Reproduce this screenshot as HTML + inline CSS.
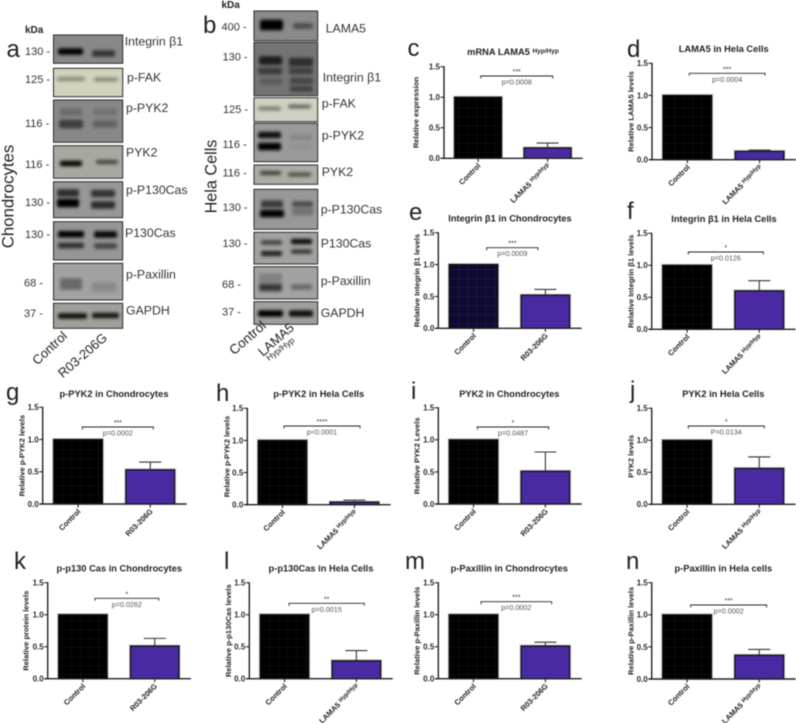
<!DOCTYPE html>
<html lang="en">
<head>
<meta charset="utf-8">
<title>LAMA5 western blots and quantification</title>
<style>
html,body{margin:0;padding:0;background:#fff;width:796px;height:723px;overflow:hidden}
svg{display:block;font-family:"Liberation Sans",Arial,sans-serif;filter:blur(0.4px)}
</style>
</head>
<body>
<svg id="fig" xmlns="http://www.w3.org/2000/svg" width="796" height="723" viewBox="0 0 796 723">
<defs>
<filter id="bandBlur" x="-30%" y="-200%" width="160%" height="500%"><feGaussianBlur stdDeviation="1.5"/></filter>
<pattern id="gridBlack" width="9" height="9" patternUnits="userSpaceOnUse"><rect width="9" height="9" fill="#000"/><path d="M9 0V9M0 9H9" stroke="#161616" stroke-width="1"/></pattern>
<pattern id="gridNavy" width="9" height="9" patternUnits="userSpaceOnUse"><rect width="9" height="9" fill="#0c0a30"/><path d="M9 0V9M0 9H9" stroke="#26244e" stroke-width="1"/></pattern>
</defs>
</svg>
<script>
/* ---------- chart data ---------- */
var panelIds = ['c','d','e','f','g','h','i','j','k','l','m','n'];
var panelTitles = ['mRNA LAMA5 |Hyp/Hyp','LAMA5 in Hela Cells','Integrin β1 in Chondrocytes','Integrin β1 in Hela Cells','p-PYK2 in Chondrocytes','p-PYK2 in Hela Cells','PYK2 in Chondrocytes','PYK2 in Hela Cells','p-p130 Cas in Chondrocytes','p-p130Cas in Hela Cells','p-Paxillin in Chondrocytes','p-Paxillin in Hela cells'];
var yTitles = ['Relative expression','Relative LAMA5 levels','Relative Integrin β1 levels','Relative Integrin β1 levels','Relative p-PYK2 levels','Relative p-PYK2 levels','Relative PYK2 Levels','PYK2 levels','Relative protein levels','Relative p-p130Cas levels','Relative p-Paxillin levels','Relative p-Paxillin levels'];
var controlLabel = 'Control';
var treatedLabels = ['LAMA5 |Hyp/Hyp','LAMA5 |Hyp/Hyp','R03-206G','LAMA5 |Hyp/Hyp','R03-206G','LAMA5 |Hyp/Hyp','R03-206G','LAMA5 |Hyp/Hyp','R03-206G','LAMA5 |Hyp/Hyp','R03-206G','LAMA5 |Hyp/Hyp'];
var controlValues = [1,1,1,1,1,1,1,1,1,1,1,1];
var treatedValues = [0.17,0.13,0.52,0.60,0.53,0.04,0.51,0.56,0.51,0.28,0.51,0.37];
var treatedErrorTops = [0.25,0.15,0.61,0.76,0.65,0.07,0.81,0.74,0.63,0.44,0.57,0.46];
var significance = ['***','***','***','*','***','****','*','*','*','**','***','***'];
var pLabels = ['p=0.0008','p=0.0004','p=0.0009','p=0.0126','p=0.0002','p<0.0001','p=0.0487','P=0.0134','p=0.0262','p=0.0015','p=0.0002','p=0.0002'];
var tickValues = [0,0.5,1,1.5];
var tickLabels = ['0.0','0.5','1.0','1.5'];

/* ---------- panel frames (axis origin, top, width; bracket; title) ---------- */
var frames = [
 {ax:444,  top:66.7, y0:158.3,w:138.7,bx1:480.7,bx2:552.7,by:76,   tx:513,  ty:52,   lx:407.5,ly:56, yo:28},
 {ax:652,  top:63.3, y0:159.7,w:144,  bx1:689.3,bx2:765,  by:73.3, tx:723.7,ty:49,   lx:627, ly:57, yo:21},
 {ax:438.3,top:232.7,y0:328.3,w:143.4,bx1:486.7,bx2:538,  by:247.7,tx:510,  ty:218.5,lx:409, ly:220,yo:21.6},
 {ax:651.7,top:233.3,y0:329.3,w:144,  bx1:688.3,bx2:763.3,by:252,  tx:724,  ty:219, lx:627, ly:219,yo:21},
 {ax:42.7, top:407.3,y0:504,  w:144,  bx1:82.3, bx2:153.3,by:427,  tx:114,  ty:394, lx:6,   ly:400,yo:21},
 {ax:247.3,top:408.3,y0:504.7,w:143.4,bx1:284,  bx2:360,  by:426,  tx:318.7,ty:394, lx:216, ly:401,yo:20.6},
 {ax:438.3,top:407.7,y0:504,  w:143.4,bx1:477.3,bx2:548.7,by:427,  tx:509.3,ty:394, lx:411, ly:399,yo:21.6},
 {ax:651.7,top:408.3,y0:504.3,w:144,  bx1:688.3,bx2:764.3,by:426,  tx:723.3,ty:394, lx:630, ly:398,yo:21},
 {ax:47.7, top:582.7,y0:678.7,w:143.3,bx1:95,   bx2:158.7,by:598.3,tx:119.3,ty:568.5,lx:14,  ly:569,yo:21.7},
 {ax:249.3,top:582.7,y0:678.7,w:143.4,bx1:289,  bx2:364.3,by:603.3,tx:321,  ty:568.5,lx:224, ly:569,yo:21},
 {ax:438.3,top:582.7,y0:678.7,w:143.4,bx1:481,  bx2:551.7,by:601.7,tx:509.3,ty:568.5,lx:405, ly:569,yo:21.6},
 {ax:651.7,top:582.7,y0:679,  w:144,  bx1:690.7,bx2:766.7,by:605,  tx:723.3,ty:568.5,lx:626, ly:569,yo:21}
];

/* ---------- western blot images: frame and smeared bands ---------- */
var blots = [
 {name:'chondrocytes-integrin',x:53.5,y:35,h:28.3,bg:'#888888',bands:[[58,83,51.5,5,1],[92,115,53.5,5,.6]]},
 {name:'chondrocytes-p-fak',x:53.5,y:68.3,h:28.4,bg:'#d2d2bd',bands:[[57,85,79,2.5,.35],[94,118,79.5,2.5,.35]]},
 {name:'chondrocytes-p-pyk2',x:53.5,y:100,h:42.3,bg:'#888888',bands:[[60,82,112,6,.2],[93,117,112,6,.15],[59,83,124,7,.55],[93,117,124,6,.28]]},
 {name:'chondrocytes-pyk2',x:53.5,y:145.7,h:32.6,bg:'#a8a8a0',bands:[[60,82,163.5,4,.95],[96,118,162,2.5,.6]]},
 {name:'chondrocytes-p-p130cas',x:53.5,y:181.7,h:36,bg:'#979797',bands:[[57,79,193,6,.7],[91,115,193.5,6,.65],[57,79,203,7,1],[91,115,205,6,.7]]},
 {name:'chondrocytes-p130cas',x:53.5,y:221.7,h:38.3,bg:'#969696',bands:[[58,84,234.3,5,1],[94,117,234.5,5,.95],[58,84,245.5,4,.7],[94,117,246,4,.55]]},
 {name:'chondrocytes-p-paxillin',x:53.5,y:263.3,h:36.7,bg:'#a2a2a2',bands:[[60,82,284,10,.35],[92,116,287,8,.15]]},
 {name:'chondrocytes-gapdh',x:53.5,y:303.3,h:25,bg:'#a0a09a',bands:[[58,87,316,4,.9],[92,119,315.5,4,.85]]},
 {name:'hela-lama5',x:254,y:11,h:29.7,bg:'#8a8a8a',bands:[[260,283,25,9,1],[293,313,26,4,.45]]},
 {name:'hela-integrin',x:254,y:42.3,h:53.4,bg:'#747474',bands:[[259,282,60.5,7,.75],[289,313,62,7,.6],[258,282,71,5,.5],[289,313,71,5,.45],[260,282,81.5,5,.2],[290,313,81,5,.4],[290,313,89,4,.45]]},
 {name:'hela-p-fak',x:254,y:97.7,h:24,bg:'#d0d0c2',bands:[[258,281,108.5,2.5,.4],[288,311,106.5,2.5,.5]]},
 {name:'hela-p-pyk2',x:254,y:123.3,h:38.4,bg:'#9a9a9a',bands:[[258,281,135,5,.9],[258,281,146.5,6,1],[290,312,137.5,4,.12],[290,312,147,4,.05]]},
 {name:'hela-pyk2',x:254,y:165,h:19.3,bg:'#acaca6',bands:[[260,281,173,2.5,.65],[288,311,174.5,2.5,.55]]},
 {name:'hela-p-p130cas',x:254,y:189.3,h:40,bg:'#989898',bands:[[261,283,204,6,.6],[292,313,204,4,.5],[260,284,213.5,6,1],[292,313,211.5,6,.25]]},
 {name:'hela-p130cas',x:254,y:232.3,h:31.7,bg:'#a2a29e',bands:[[261,282,242.5,3,.6],[291,312,241.5,4,.9],[261,282,253.5,3.5,.8],[291,312,251.5,3,.65]]},
 {name:'hela-p-paxillin',x:254,y:266.7,h:32.3,bg:'#a2a2a2',bands:[[259,282,278,8,.2],[259,282,287.5,6,.65],[291,312,287,4,.35]]},
 {name:'hela-gapdh',x:254,y:301.7,h:22.6,bg:'#a0a09c',bands:[[258,283,313.5,5,1],[289,313,313.5,5,.9]]}
];
var blotWidths = {a:69.2,b:63.7};
var blotLabels = [
 ['Integrin β1',124.7,41],['p-FAK',127,77],['p-PYK2',126,107.7],['PYK2',126,152.3],['p-P130Cas',126,189.7],['P130Cas',125,232.7],['p-Paxillin',126,274],['GAPDH',126,310.3],
 ['LAMA5',325.7,28.3],['Integrin β1',322.7,77.3],['p-FAK',321.7,103.3],['p-PYK2',321.7,135],['PYK2',321.7,171.7],['p-P130Cas',320.7,209],['P130Cas',320.7,243.3],['p-Paxillin',320.7,280.7],['GAPDH',320.7,312.7]
];
var markerLabels = [
 ['130 -',25,51],['125 -',25,79],['116 -',25,123.3],['116 -',25,164],['130 -',25,202.3],['130 -',25,234],['68 -',24,282.7],['37 -',24,313.3],
 ['400 -',221.5,26.7],['130 -',222.5,56.7],['125 -',223,109.3],['116 -',222.5,144],['116 -',222.5,172.7],['130 -',222.5,207.3],['130 -',222.5,243.3],['68 -',222,284.3],['37 -',222,311.7]
];
var lanes = [
 ['Control',68,337,13,-43],['R03-206G',108,339,13,-41],
 ['Control',267,327,13.5,-41],['LAMA5',295,329,13,-41],['Hyp/Hyp',295,341.5,8.5,-37]
];

/* ---------- drawing ---------- */
var svg = document.getElementById('fig');
var NS = 'http://www.w3.org/2000/svg';
function mk(tag, attrs, parent){
  var e = document.createElementNS(NS, tag);
  for (var k in attrs) e.setAttribute(k, attrs[k]);
  (parent || svg).appendChild(e);
  return e;
}
function writeText(node, label, supSize){
  var parts = label.split('|');
  node.appendChild(document.createTextNode(parts[0]));
  if (parts[1]) {
    var s = mk('tspan', {'font-size': supSize, dy: -2}, node);
    s.textContent = parts[1];
  }
}

/* blots */
blots.forEach(function(b, i){
  var w = b.x < 200 ? blotWidths.a : blotWidths.b;
  var g = mk('g', {});
  
  
  mk('rect', {x: b.x, y: b.y, width: w, height: b.h, fill: b.bg, stroke: '#2a2a2a', 'stroke-width': 1}, g);
  b.bands.forEach(function(d){
    var bh = d[3] + 1.5;
    var band = mk('rect', {x: d[0], y: d[2] - bh / 2, width: d[1] - d[0], height: bh, rx: 2, fill: '#000', opacity: d[4], filter: 'url(#bandBlur)'}, g);
    
    
  });
});
blotLabels.forEach(function(l){
  var t = mk('text', {x: l[1], y: l[2] + 4.3, 'font-size': 12.3, fill: '#333'});
  t.textContent = l[0];
  
  
});
markerLabels.forEach(function(l){
  var t = mk('text', {x: l[1], y: l[2] + 3.8, 'font-size': 11, fill: '#333'});
  t.textContent = l[0];
  
  
});
lanes.forEach(function(l){
  var t = mk('text', {transform: 'translate(' + l[1] + ' ' + l[2] + ') rotate(' + l[4] + ')', 'text-anchor': 'end', 'font-size': l[3], fill: '#222'});
  t.textContent = l[0];
  
  
});
var kda1 = mk('text', {x: 25, y: 33, 'font-size': 10, 'font-weight': 'bold', fill: '#222'});
kda1.textContent = 'kDa';


var kda2 = mk('text', {x: 221.5, y: 8, 'font-size': 10, 'font-weight': 'bold', fill: '#222'});
kda2.textContent = 'kDa';


var side1 = mk('text', {transform: 'translate(13.5 196.5) rotate(-90)', 'text-anchor': 'middle', 'font-size': 16.8, fill: '#222'});
side1.textContent = 'Chondrocytes';


var side2 = mk('text', {transform: 'translate(216.5 176.5) rotate(-90)', 'text-anchor': 'middle', 'font-size': 16.2, fill: '#222'});
side2.textContent = 'Hela Cells';


var la = mk('text', {x: 6.5, y: 57, 'font-size': 24, fill: '#222'});
la.textContent = 'a';


var lb = mk('text', {x: 203, y: 33, 'font-size': 24, fill: '#222'});
lb.textContent = 'b';



/* bar charts */
panelIds.forEach(function(id, i){
  var f = frames[i];
  var yScale = function(v){ return f.y0 - v / 1.5 * (f.y0 - f.top); };
  var k = f.w / 144;
  var barW = 48.7 * k;
  var xBand = function(idx){ return f.ax + 11 * k + idx * 72.2 * k; };

  var g = mk('g', {});
  
  

  var letter = mk('text', {x: f.lx, y: f.ly, 'font-size': 24, fill: '#222'}, g);
  letter.textContent = id;
  
  

  var title = mk('text', {x: f.tx, y: f.ty + 3.2, 'text-anchor': 'middle', 'font-size': 9.3, 'font-weight': 'bold', fill: '#222'}, g);
  writeText(title, panelTitles[i], 6.5);
  
  

  var yt = mk('text', {transform: 'translate(' + (f.ax - f.yo + 2.7) + ' ' + ((f.top + f.y0) / 2) + ') rotate(-90)', 'text-anchor': 'middle', 'font-size': 7.6, 'font-weight': 'bold', fill: '#222'}, g);
  yt.textContent = yTitles[i];
  
  

  /* bars */
  var vals = [controlValues[i], treatedValues[i]];
  vals.forEach(function(v, idx){
    var x = xBand(idx), y = yScale(v);
    var halo = mk('rect', {x: x - 1, y: y - 1, width: barW + 2, height: yScale(0) - y + 1, fill: 'none', stroke: '#c4c4c4', 'stroke-width': 1}, g);
    
    
    var fillColor = idx === 1 ? '#4a2aa2' : (id === 'e' ? 'url(#gridNavy)' : 'url(#gridBlack)');
    var bar = mk('rect', {x: x, y: y, width: barW, height: yScale(0) - y, fill: fillColor, stroke: '#0a0a0a', 'stroke-width': 1.2}, g);
    
    
  });

  /* error bar */
  var cx = xBand(1) + barW / 2;
  var err = mk('path', {d: 'M' + cx + ' ' + yScale(treatedValues[i]) + 'V' + yScale(treatedErrorTops[i]) + 'M' + (cx - 11) + ' ' + yScale(treatedErrorTops[i]) + 'H' + (cx + 11), fill: 'none', stroke: '#333', 'stroke-width': 1.1}, g);
  
  

  /* axes */
  var yAxis = mk('line', {x1: f.ax, x2: f.ax, y1: yScale(1.5) - 0.5, y2: yScale(0) + 0.5, stroke: '#222', 'stroke-width': 1.4}, g);
  
  
  var xAxis = mk('line', {x1: f.ax - 3, x2: f.ax + f.w, y1: yScale(0), y2: yScale(0), stroke: '#222', 'stroke-width': 1.4}, g);
  
  

  tickValues.forEach(function(tv, ti){
    var tick = mk('line', {x1: f.ax - 3.5, x2: f.ax, y1: yScale(tv), y2: yScale(tv), stroke: '#222', 'stroke-width': 1.1}, g);
    
    
    var lab = mk('text', {x: f.ax - 4, y: yScale(tv) + 2.9, 'text-anchor': 'end', 'font-size': 8, 'font-weight': 'bold', fill: '#2a2a2a'}, g);
    lab.textContent = tickLabels[ti];
    
    
  });

  [controlLabel, treatedLabels[i]].forEach(function(cat, ci){
    var c = xBand(ci) + barW / 2;
    var tick = mk('line', {x1: c, x2: c, y1: yScale(0), y2: yScale(0) + 3.5, stroke: '#222', 'stroke-width': 1.1}, g);
    
    
    var lab = mk('text', {transform: 'translate(' + (c + 3) + ' ' + (yScale(0) + 8) + ') rotate(-45)', 'text-anchor': 'end', 'font-size': 7.6, 'font-weight': 'bold', fill: '#222'}, g);
    writeText(lab, cat, 6);
    
    
  });

  /* significance bracket */
  var br = mk('path', {d: 'M' + f.bx1 + ' ' + (f.by + 2.5) + 'V' + f.by + 'H' + f.bx2 + 'V' + (f.by + 2.5), fill: 'none', stroke: '#222', 'stroke-width': 0.9}, g);
  
  
  var st = mk('text', {x: (f.bx1 + f.bx2) / 2, y: f.by - 2, 'text-anchor': 'middle', 'font-size': 7, fill: '#333'}, g);
  st.textContent = significance[i];
  
  
  var pt = mk('text', {x: (f.bx1 + f.bx2) / 2, y: f.by + 8.5, 'text-anchor': 'middle', 'font-size': 7.2, fill: '#555'}, g);
  pt.textContent = pLabels[i];
  
  
});
</script>
</body>
</html>
